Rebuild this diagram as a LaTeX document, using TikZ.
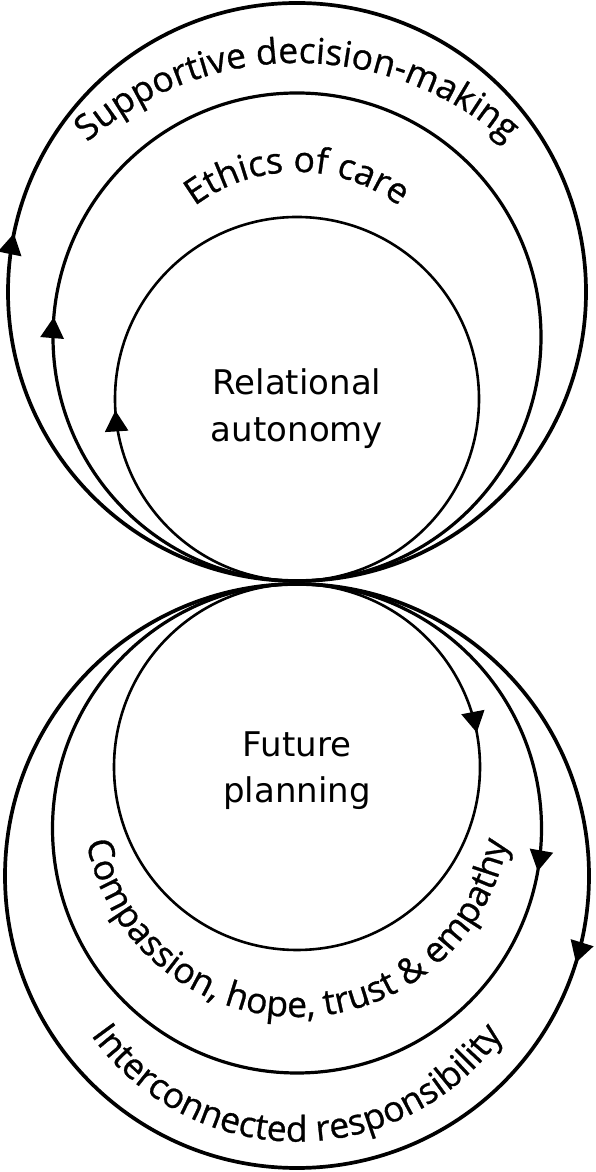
\documentclass[tikz,border=0pt]{standalone}
\usepackage{fontspec}
\setmainfont{DejaVu Sans}
\newfontfamily\myarcfamily[FakeBold=0.8]{Open Sans}
\newfontfamily\mylabelfamily{DejaVu Sans}
\usetikzlibrary{decorations.text,decorations.markings,arrows.meta,calc}
\newcommand\myarcfont{\myarcfamily\fontsize{35.5}{40}\selectfont}
\begin{document}
\begin{tikzpicture}[x=1pt,y=1pt,
  outerring/.style={draw=black, line width=3.7pt},
  midring/.style={draw=black, line width=3.2pt},
  innerring/.style={draw=black, line width=2.6pt},
  arrowat/.style={postaction={decorate}, decoration={markings,
      mark=at position #1 with {\arrow{Triangle[length=21pt,width=23pt]}}}},
  lbl/.style={font=\mylabelfamily\fontsize{34}{40}\selectfont, inner sep=0pt, text=black},
  arctext/.style={decorate, decoration={text along path, text align=center,
      text={|\myarcfont|#1}}}
]
\useasboundingbox (0,0) rectangle (596,1172);

% tangent points
\coordinate (Ttop) at (297,591);
\coordinate (Tbot) at (297,588);

% upper rings (clockwise from the tangent point)
\draw[outerring, arrowat=0.2825] (Ttop) arc[start angle=-90, end angle=-450, radius=289];
\draw[midring, arrowat=0.263] (Ttop) arc[start angle=-90, end angle=-450, radius=244];
\draw[innerring, arrowat=0.240] (Ttop) arc[start angle=-90, end angle=-450, radius=182];

% lower rings (clockwise from the tangent point)
\draw[innerring, arrowat=0.220] (Tbot) arc[start angle=90, end angle=-270, radius=183];
\draw[midring, arrowat=0.278] (Tbot) arc[start angle=90, end angle=-270, radius=244.5];
\draw[outerring, arrowat=0.298] (Tbot) arc[start angle=90, end angle=-270, radius=292];

% arc text centres
\coordinate (cSup) at (297,792);
\coordinate (cEth) at (297,830);
\coordinate (cCom) at (297,369);
\coordinate (cInt) at (297,283);

\path[arctext={Supportive decision-making}] ($(cSup)+(140:317)$) arc[start angle=140, end angle=40, radius=317];
\path[arctext={Ethics of care}] ($(cEth)+(150:170)$) arc[start angle=150, end angle=30, radius=170];
\path[arctext={Compassion, hope, trust {\&} empathy}] ($(cCom)+(190:214)$) arc[start angle=190, end angle=350, radius=214];
\path[arctext={Interconnected responsibility}] ($(cInt)+(205:252.6)$) arc[start angle=205, end angle=335, radius=252.6];

% centre labels
\node[lbl, anchor=base] (rel1) at (297,777) {Relational};
\node[lbl, anchor=base] (rel2) at (297,730) {autonomy};
\node[lbl, anchor=base] (fut1) at (297,415) {Future};
\node[lbl, anchor=base] (fut2) at (297,369) {planning};
\end{tikzpicture}
\end{document}
